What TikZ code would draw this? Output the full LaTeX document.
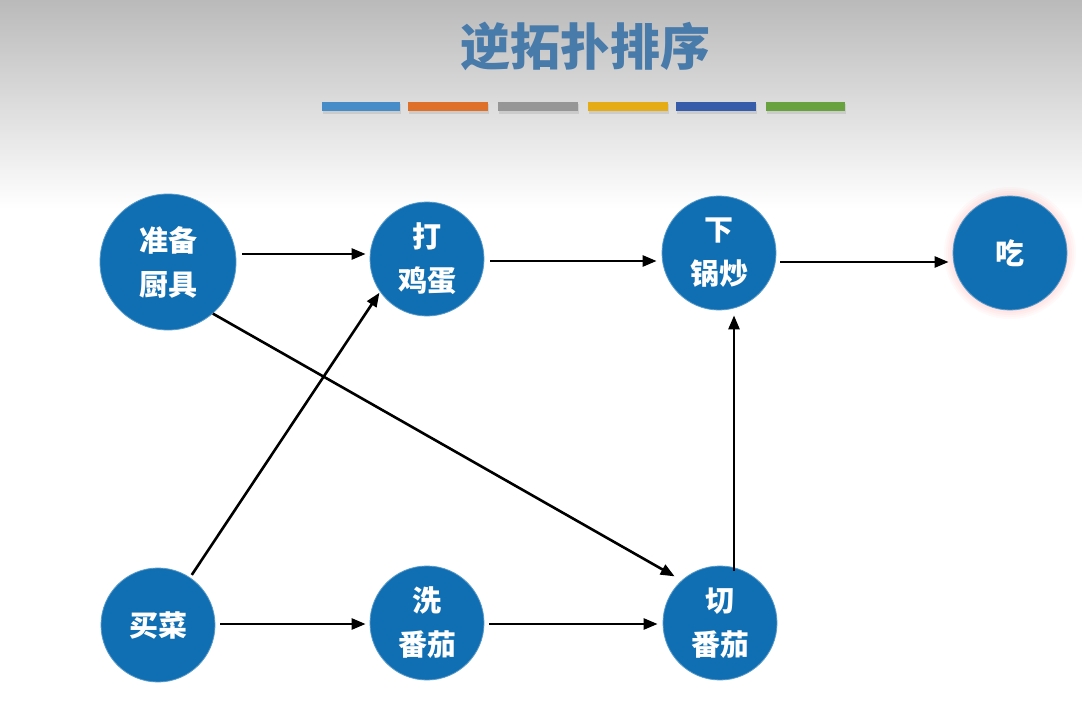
\documentclass[tikz,border=0pt]{standalone}
\usepackage{fontspec}
\setmainfont{Noto Sans CJK SC}
\usetikzlibrary{arrows.meta,calc}
\definecolor{nodeblue}{RGB}{16,111,178}
\definecolor{titleblue}{RGB}{72,122,170}
\definecolor{barA}{RGB}{70,140,200}
\definecolor{barB}{RGB}{222,112,42}
\definecolor{barC}{RGB}{150,150,150}
\definecolor{barD}{RGB}{230,172,22}
\definecolor{barE}{RGB}{54,92,170}
\definecolor{barF}{RGB}{104,162,62}
\definecolor{topgray}{RGB}{186,186,186}
\tikzset{
  task/.style={circle, fill=nodeblue, draw=nodeblue!70!white, line width=0.8pt, text=white, inner sep=0pt,
    font=\fontsize{29}{44}\selectfont\bfseries, align=center},
  big/.style={minimum size=136pt},
  small/.style={minimum size=114pt},
  arr/.style={-{Triangle[length=14pt,width=11pt]}, line width=2.6pt, black}
}
\begin{document}
\begin{tikzpicture}[x=1pt,y=-1pt]
\useasboundingbox (0,0) rectangle (1082,701);
\fill[white] (0,0) rectangle (1082,701);
% background gradient, drawn in strips
\foreach \i in {0,...,104}{
  \pgfmathsetmacro{\p}{100-\i*100/104}
  \fill[topgray!\p!white] (0,{\i*2}) rectangle (1082,{\i*2+2.2});
}
% title
\node[text=titleblue, font=\fontsize{50}{50}\selectfont\bfseries] (title) at (585,46) {逆拓扑排序};
% colour bars
\foreach \xa/\xb/\c in {322/400/barA, 408/488/barB, 498/578/barC, 588/668/barD, 676/756/barE, 766/845/barF}{
  \fill[black!25, opacity=0.6] (\xa+1,104) rectangle (\xb+1,114);
  \fill[\c] (\xa,102) rectangle (\xb,111);
}
% soft glow behind 吃
\foreach \r in {58,60,62,64,66}{
  \fill[red, opacity=0.025] (1010,253) circle (\r);
}
% nodes
\node[task,big]   (zb) at (168,262) {准备\\厨具};
\node[task,small] (dj) at (427,259) {打\\鸡蛋};
\node[task,small] (xg) at (719,253) {下\\锅炒};
\node[task,small] (ch) at (1010,253) {吃};
\node[task,small] (mc) at (158,625) {买菜};
\node[task,small] (xf) at (427,623) {洗\\番茄};
\node[task,small] (qf) at (720,623) {切\\番茄};
% connectors
\draw[arr] ($(zb.east)+(6,-8)$) -- ($(dj.west)+(-4,-5)$);
\draw[arr] ($(dj.east)+(6,2)$) -- ($(xg.west)+(-5,8)$);
\draw[arr] ($(xg.east)+(4,9)$) -- ($(ch.west)+(-4,9)$);
\draw[arr, shorten >=8pt] (zb.-49) -- (qf.132);
\draw[arr, shorten <=3pt, shorten >=1pt] (mc.56) -- (dj.-145);
\draw[arr] ($(mc.east)+(5,-1)$) -- ($(xf.west)+(-4,1)$);
\draw[arr] ($(xf.east)+(5,1)$) -- ($(qf.west)+(-5,1)$);
\draw[arr] ($(qf.north)+(14,5)$) -- ($(xg.south)+(15,5)$);
\end{tikzpicture}
\end{document}
